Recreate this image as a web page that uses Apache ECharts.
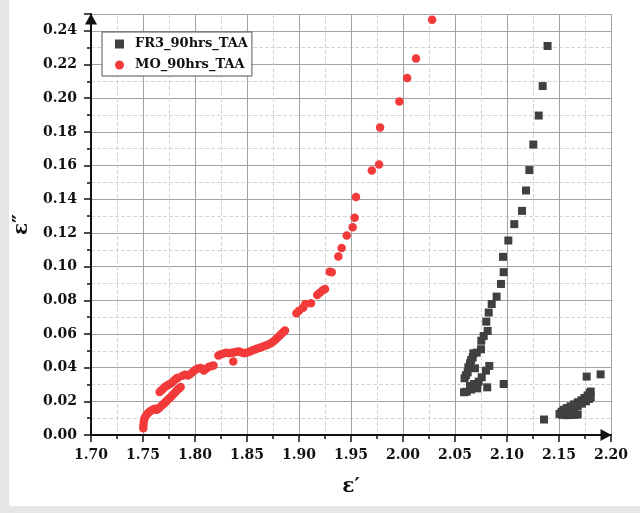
<!DOCTYPE html>
<html>
<head>
	<meta charset="utf-8">
	<title>FR3 / MO 90hrs TAA</title>
	<style type="text/css">
		body{
			margin: 0px;
			background: #fff;
		}
		.chart{
			width: 640px;
			height: 513px;
		}
	</style>
	<script type="text/javascript" src="https://cdn.jsdelivr.net/npm/echarts@6/dist/echarts.min.js"></script>
</head>
<body>
	<div id="chart" class="chart"></div>
	<script type="text/javascript">
		var frX = [2.0587, 2.0612, 2.0644, 2.0655, 2.0683, 2.0714, 2.0810, 2.0968, 2.0728, 2.0757,
			2.0798, 2.0830, 2.0692, 2.0592, 2.0605, 2.0622, 2.0628, 2.0644, 2.0655, 2.0670,
			2.0676, 2.0709, 2.0750, 2.0753, 2.0776, 2.0814, 2.0801, 2.0824, 2.0853, 2.0900,
			2.0942, 2.0968, 2.0962, 2.1013, 2.1070, 2.1144, 2.1183, 2.1215, 2.1253, 2.1305,
			2.1343, 2.1390,
			2.1356, 2.1766, 2.1900,
			2.1505, 2.1530, 2.1560, 2.1590, 2.1620, 2.1650, 2.1680,
			2.1525, 2.1560, 2.1600, 2.1640, 2.1680, 2.1720, 2.1760, 2.1790, 2.1805,
			2.1545, 2.1575, 2.1610, 2.1645, 2.1680, 2.1715, 2.1745, 2.1775, 2.1795, 2.1805];
		var frY = [0.0254, 0.0257, 0.0291, 0.0270, 0.0303, 0.0277, 0.0283, 0.0303, 0.0317, 0.0343,
			0.0382, 0.0410, 0.0396, 0.0337, 0.0355, 0.0372, 0.0402, 0.0426, 0.0445, 0.0460,
			0.0485, 0.0489, 0.0509, 0.0560, 0.0588, 0.0618, 0.0673, 0.0727, 0.0778, 0.0822,
			0.0897, 0.0967, 0.1058, 0.1155, 0.1252, 0.1331, 0.1452, 0.1573, 0.1725, 0.1897,
			0.2072, 0.2310,
			0.0092, 0.0347, 0.0360,
			0.0125, 0.0120, 0.0118, 0.0118, 0.0120, 0.0120, 0.0122,
			0.0138, 0.0145, 0.0152, 0.0162, 0.0172, 0.0186, 0.0200, 0.0214, 0.0225,
			0.0150, 0.0160, 0.0170, 0.0182, 0.0194, 0.0206, 0.0220, 0.0235, 0.0248, 0.0258];

		var moX = [1.7503, 1.7504, 1.7508, 1.7515, 1.7528, 1.7545, 1.7562, 1.7580, 1.7598, 1.7615,
			1.7632, 1.7650, 1.7668, 1.7686, 1.7705, 1.7724, 1.7743, 1.7762, 1.7780, 1.7798,
			1.7815, 1.7832, 1.7848, 1.7862,
			1.7660, 1.7678, 1.7696, 1.7714, 1.7732, 1.7750, 1.7768, 1.7786, 1.7804, 1.7822, 1.7836,
			1.7880, 1.7905, 1.7930, 1.7955, 1.7980, 1.8005, 1.8030, 1.8055, 1.8085, 1.8110,
			1.8135, 1.8160, 1.8178,
			1.8225, 1.8250, 1.8275, 1.8300, 1.8325, 1.8350, 1.8375, 1.8400, 1.8425, 1.8450,
			1.8475, 1.8500, 1.8525, 1.8550, 1.8575, 1.8600, 1.8625, 1.8650, 1.8675, 1.8700,
			1.8725, 1.8750, 1.8770, 1.8790, 1.8810, 1.8830, 1.8850, 1.8865, 1.8368,
			1.8975, 1.9000, 1.9040, 1.9060, 1.9115, 1.9175, 1.9200, 1.9228, 1.9250, 1.9295,
			1.9315, 1.9378, 1.9410, 1.9459, 1.9516, 1.9535, 1.9548, 1.9700, 1.9770, 1.9780,
			1.9965, 2.0040, 2.0125, 2.0280];
		var moY = [0.0040, 0.0060, 0.0080, 0.0100, 0.0115, 0.0128, 0.0138, 0.0146, 0.0152, 0.0156,
			0.0150, 0.0158, 0.0168, 0.0178, 0.0188, 0.0200, 0.0212, 0.0222, 0.0234, 0.0246,
			0.0257, 0.0268, 0.0278, 0.0285,
			0.0255, 0.0266, 0.0276, 0.0286, 0.0294, 0.0300, 0.0306, 0.0316, 0.0326, 0.0336, 0.0340,
			0.0352, 0.0358, 0.0354, 0.0362, 0.0375, 0.0388, 0.0395, 0.0398, 0.0383, 0.0395,
			0.0405, 0.0410, 0.0412,
			0.0472, 0.0480, 0.0484, 0.0488, 0.0486, 0.0488, 0.0490, 0.0494, 0.0496, 0.0490,
			0.0486, 0.0490, 0.0495, 0.0502, 0.0508, 0.0514, 0.0518, 0.0524, 0.0530, 0.0536,
			0.0544, 0.0554, 0.0564, 0.0576, 0.0588, 0.0600, 0.0612, 0.0620, 0.0436,
			0.0723, 0.0738, 0.0756, 0.0778, 0.0782, 0.0832, 0.0845, 0.0860, 0.0867, 0.0970,
			0.0967, 0.1060, 0.1110, 0.1185, 0.1234, 0.1290, 0.1414, 0.1570, 0.1606, 0.1826,
			0.1980, 0.2120, 0.2236, 0.2466];

		function pairs(xs, ys){
			var out = [];
			for(var i = 0; i < xs.length; i++){
				out.push([xs[i], ys[i]]);
			}
			return out;
		}

		var labelFont = {
			fontFamily: 'DejaVu Serif',
			fontWeight: 'bold',
			fontSize: 14,
			color: '#111'
		};

		window.onload = function(){
			var chart = echarts.init(document.getElementById('chart'));
			chart.setOption({
				backgroundColor: '#fff',
				animation: false,
				graphic: [{
					type: 'rect',
					shape: {x: 0, y: 0, width: 9, height: 513},
					style: {fill: '#e6e6e6'},
					z: -10
				}, {
					type: 'rect',
					shape: {x: 0, y: 506, width: 640, height: 7},
					style: {fill: '#e6e6e6'},
					z: -10
				}],
				grid: {
					left: 91,
					right: 29,
					top: 14,
					bottom: 78
				},
				legend: {
					orient: 'vertical',
					left: 102,
					top: 32,
					padding: [4, 4, 3, 13],
					itemGap: 5,
					itemWidth: 9,
					itemHeight: 9,
					borderColor: '#555',
					borderWidth: 1,
					borderRadius: 0,
					backgroundColor: '#fff',
					textStyle: {
						fontFamily: 'DejaVu Serif',
						fontWeight: 'bold',
						fontSize: 13,
						lineHeight: 16,
						color: '#111',
						padding: [0, 0, 0, 6]
					},
					data: [
						{name: 'FR3_90hrs_TAA', icon: 'rect'},
						{name: 'MO_90hrs_TAA', icon: 'circle'}
					]
				},
				xAxis: {
					type: 'value',
					min: 1.70,
					max: 2.20,
					interval: 0.05,
					name: 'ε′',
					nameLocation: 'middle',
					nameGap: 42,
					nameTextStyle: {
						fontFamily: 'DejaVu Serif',
						fontWeight: 'bold',
						fontSize: 20,
						color: '#111'
					},
					axisLine: {
						onZero: false,
						symbol: ['none', 'triangle'],
						symbolSize: [12, 11],
						symbolOffset: [0, -5],
						lineStyle: {color: '#111', width: 2}
					},
					axisTick: {
						inside: false,
						length: 7,
						lineStyle: {color: '#111', width: 1.5}
					},
					minorTick: {
						show: true,
						splitNumber: 2,
						length: 4,
						lineStyle: {color: '#111', width: 1.5}
					},
					axisLabel: Object.assign({
						margin: 13,
						formatter: function(v){ return v.toFixed(2); }
					}, labelFont),
					splitLine: {
						show: true,
						lineStyle: {color: '#a3a3a3', width: 1}
					},
					minorSplitLine: {
						show: true,
						lineStyle: {color: '#d4d4d4', width: 1, type: 'dashed'}
					}
				},
				yAxis: {
					type: 'value',
					min: 0,
					max: 0.25,
					interval: 0.02,
					name: 'ε″',
					nameLocation: 'middle',
					nameGap: 54,
					nameTextStyle: {
						fontFamily: 'DejaVu Serif',
						fontWeight: 'bold',
						fontSize: 20,
						color: '#111'
					},
					axisLine: {
						onZero: false,
						symbol: ['none', 'triangle'],
						symbolSize: [12, 11],
						symbolOffset: [0, -5],
						lineStyle: {color: '#111', width: 2}
					},
					axisTick: {
						inside: false,
						length: 7,
						lineStyle: {color: '#111', width: 1.5}
					},
					minorTick: {
						show: true,
						splitNumber: 2,
						length: 4,
						lineStyle: {color: '#111', width: 1.5}
					},
					axisLabel: Object.assign({
						margin: 14,
						showMaxLabel: false,
						formatter: function(v){ return v.toFixed(2); }
					}, labelFont),
					splitLine: {
						show: true,
						lineStyle: {color: '#a3a3a3', width: 1}
					},
					minorSplitLine: {
						show: true,
						lineStyle: {color: '#d4d4d4', width: 1, type: 'dashed'}
					}
				},
				series: [{
					name: 'FR3_90hrs_TAA',
					type: 'scatter',
					symbol: 'rect',
					symbolSize: 8,
					clip: false,
					itemStyle: {color: '#404040', opacity: 1},
					data: pairs(frX, frY)
				}, {
					name: 'MO_90hrs_TAA',
					type: 'scatter',
					symbol: 'circle',
					symbolSize: 8.5,
					clip: false,
					itemStyle: {color: '#f23a3a', opacity: 1},
					data: pairs(moX, moY)
				}]
			});
		};
	</script>
</body>
</html>
